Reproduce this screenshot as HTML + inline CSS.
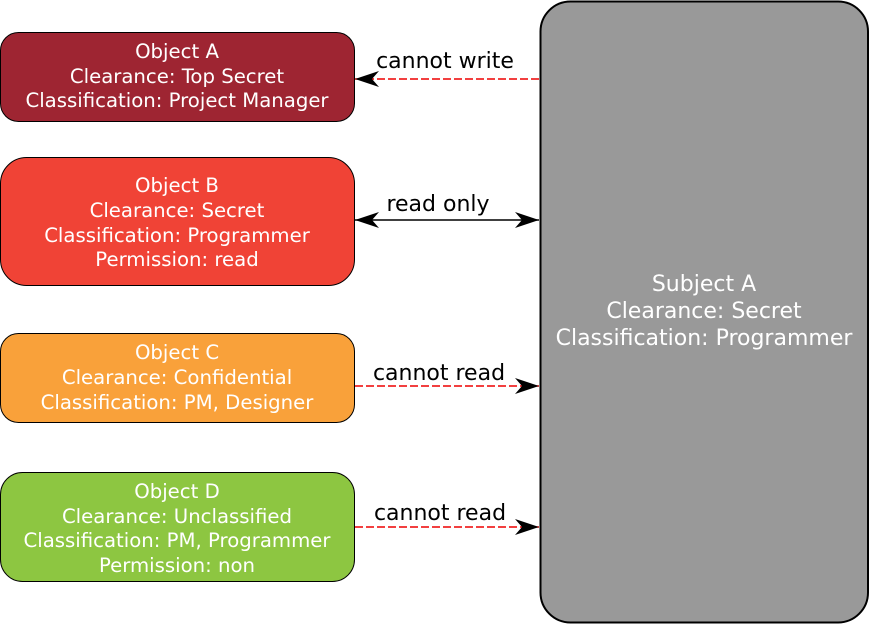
<!DOCTYPE html>
<html><head><meta charset="utf-8"><style>
html,body{margin:0;padding:0;background:#fff;}
svg{display:block;}
text{font-family:"DejaVu Sans","Liberation Sans",sans-serif;}
</style></head><body>
<svg width="870" height="625" viewBox="0 0 870 625" xmlns="http://www.w3.org/2000/svg">
<defs>
<marker id="ah" markerWidth="26" markerHeight="16" refX="24" refY="8" orient="auto" markerUnits="userSpaceOnUse">
<path d="M0,0 L24,8 L0,16 L7,8 Z" fill="#000"/>
</marker>
<marker id="ahs" markerWidth="26" markerHeight="16" refX="24" refY="8" orient="auto-start-reverse" markerUnits="userSpaceOnUse">
<path d="M0,0 L24,8 L0,16 L7,8 Z" fill="#000"/>
</marker>
</defs>
<rect x="540.5" y="1.5" width="327.5" height="621" rx="30" fill="#999999" stroke="#000" stroke-width="2"/>
<g fill="#fff" font-size="22" text-anchor="middle">
<text x="704" y="291">Subject A</text>
<text x="704" y="318">Clearance: Secret</text>
<text x="704" y="345">Classification: Programmer</text>
</g>
<rect x="0.5" y="32.5" width="354" height="89" rx="18" fill="#9e2532" stroke="#000" stroke-width="1"/>
<rect x="0.5" y="157.5" width="354" height="128" rx="26" fill="#f04336" stroke="#000" stroke-width="1"/>
<rect x="0.5" y="333.5" width="354" height="89" rx="18" fill="#f9a13a" stroke="#000" stroke-width="1"/>
<rect x="0.5" y="472.5" width="354" height="109" rx="22" fill="#8dc641" stroke="#000" stroke-width="1"/>
<g fill="#fff" font-size="19.7" text-anchor="middle">
<text x="177" y="58">Object A</text>
<text x="177" y="83">Clearance: Top Secret</text>
<text x="177" y="107">Classification: Project Manager</text>
<text x="177" y="192">Object B</text>
<text x="177" y="217">Clearance: Secret</text>
<text x="177" y="242">Classification: Programmer</text>
<text x="177" y="266">Permission: read</text>
<text x="177" y="359">Object C</text>
<text x="177" y="384">Clearance: Confidential</text>
<text x="177" y="409">Classification: PM, Designer</text>
<text x="177" y="498">Object D</text>
<text x="177" y="523">Clearance: Unclassified</text>
<text x="177" y="547">Classification: PM, Programmer</text>
<text x="177" y="572">Permission: non</text>
</g>
<line x1="539" y1="79" x2="355" y2="79" stroke="#e00" stroke-width="1.5" stroke-dasharray="8,3" marker-end="url(#ah)"/>
<line x1="355" y1="220" x2="539" y2="220" stroke="#000" stroke-width="1.5" marker-start="url(#ahs)" marker-end="url(#ahs)"/>
<line x1="355" y1="386" x2="539" y2="386" stroke="#e00" stroke-width="1.5" stroke-dasharray="8,3" marker-end="url(#ah)"/>
<line x1="355" y1="527" x2="539" y2="527" stroke="#e00" stroke-width="1.5" stroke-dasharray="8,3" marker-end="url(#ah)"/>
<g fill="#000" font-size="22" text-anchor="middle">
<text x="445" y="68">cannot write</text>
<text x="438" y="211">read only</text>
<text x="439" y="380">cannot read</text>
<text x="440" y="520">cannot read</text>
</g>
</svg>
</body></html>
